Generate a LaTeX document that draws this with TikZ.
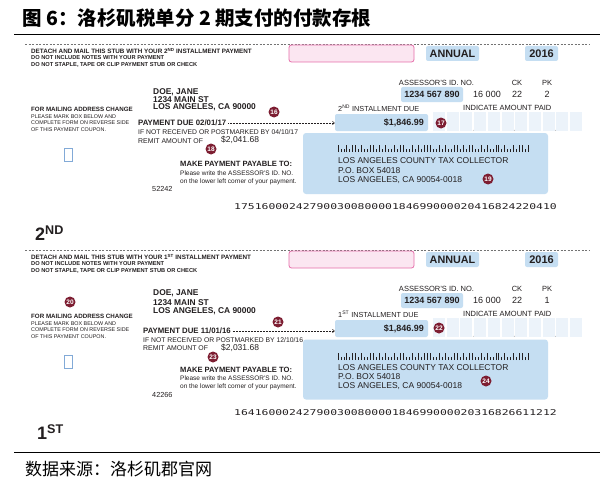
\documentclass[tikz,border=0pt]{standalone}
\usepackage{fontspec}
\setmainfont{Liberation Sans}
\newfontfamily\cjk{Noto Sans CJK SC}
\newfontfamily\ocr{DejaVu Sans Mono}
\usetikzlibrary{arrows.meta}
\definecolor{boxblue}{RGB}{197,222,242}
\definecolor{pinkfill}{RGB}{251,230,241}
\definecolor{pinkline}{RGB}{230,110,170}
\definecolor{cellblue}{RGB}{236,243,250}
\definecolor{sqblue}{RGB}{130,170,215}
\definecolor{badge}{RGB}{125,30,50}
\definecolor{ink}{RGB}{35,31,32}
\newcommand\fsz[1]{\fontsize{#1}{#1}\selectfont}
\newcommand\mybarcode[1]{%
  \foreach \b [count=\i from 0] in {1,0,0,1,0,1,1,0,1,0,0,1,1,0,1,0,1,0,0,1,0,1,1,0,0,1,0,1,0,1,1,1,0,0,1,0,1,0,0,1,1,0,1,0,1,1,0,0,1,0,1,0,0,1,1,0,1,0,0,1,0,1,1,0,1}{%
    \pgfmathsetmacro\hh{3.5+3.5*\b}
    \draw[line width=0.9pt, ink] (338+\i*2.98,#1) -- (338+\i*2.98,#1-\hh);
  }}
\newcommand\mycells{%
  \foreach \k in {0,...,10}{\fill[cellblue] (433+\k*13.7,112) rectangle ++(12,19);}
  \foreach \k in {3,6,9}{\fill[black!35] (433+\k*13.7-0.85,130.3) circle (0.45);}
}
\tikzset{
 txt/.style={inner sep=0pt, anchor=west, text=ink},
 ctxt/.style={inner sep=0pt, text=ink},
 badgec/.style={circle, fill=badge, text=white, inner sep=0pt, minimum size=11pt, font=\bfseries\fsz{6.5}},
 bluebox/.style={fill=boxblue, rounded corners=2pt, inner sep=0pt, text=ink},
 pinkbox/.style={draw=pinkline, fill=pinkfill, line width=0.8pt, rounded corners=2.5pt, inner sep=0pt, minimum width=125pt, minimum height=17pt},
 sqbox/.style={draw=sqblue, line width=0.8pt, minimum width=8pt, minimum height=13pt, inner sep=0pt},
 dotarrow/.style={densely dotted, line width=0.5pt, draw=ink, -{Straight Barb[length=2pt,width=3.5pt]}},
 cutline/.style={dash pattern=on 2pt off 1.5pt, line width=0.6pt, draw=black!55},
}
\begin{document}
\begin{tikzpicture}[x=1pt,y=-1pt]
\useasboundingbox (0,0) rectangle (609,484);
\fill[white] (0,0) rectangle (609,484);
\node[txt, text=black, font=\cjk\bfseries\fsz{19.5}] (title) at (22,18) {图 6：洛杉矶税单分 2 期支付的付款存根};
\draw[line width=0.9pt] (14,34) -- (600,34);
\draw[line width=0.9pt] (14,452.5) -- (600,452.5);
\node[txt, text=black, font=\cjk\fsz{17}] (src) at (25,469) {数据来源：洛杉矶郡官网};

% ---------------- stub 1 (2nd installment)
\draw[cutline] (25,44) -- (589,44);
\node[txt, font=\bfseries\fsz{6.3}] (det1) at (31,51) {DETACH AND MAIL THIS STUB WITH YOUR 2\textsuperscript{ND} INSTALLMENT PAYMENT};
\node[txt, font=\bfseries\fsz{5.7}] (inc1) at (31,57.5) {DO NOT INCLUDE NOTES WITH YOUR PAYMENT};
\node[txt, font=\bfseries\fsz{5.7}] (stp1) at (31,64.5) {DO NOT STAPLE, TAPE OR CLIP PAYMENT STUB OR CHECK};
\node[pinkbox] (pink1) at (351.5,53.5) {};
\node[bluebox, minimum width=53pt, minimum height=15pt, font=\bfseries\fsz{10.8}] (ann1) at (452.5,53.5) {ANNUAL};
\node[bluebox, minimum width=33pt, minimum height=15pt, font=\bfseries\fsz{11}] (yr1) at (541.5,53.5) {2016};
\node[ctxt, font=\fsz{7.5}] (asr1) at (436.5,83) {ASSESSOR'S ID. NO.};
\node[ctxt, font=\fsz{7.5}] (ck1) at (517,83) {CK};
\node[ctxt, font=\fsz{7.5}] (pk1) at (547,83) {PK};
\node[bluebox, minimum width=62pt, minimum height=15pt, font=\bfseries\fsz{9}] (id1) at (432,94.5) {1234 567 890};
\node[ctxt, font=\fsz{9}] (num1) at (487,94.5) {16 000};
\node[ctxt, font=\fsz{9}] (ckv1) at (517,94.5) {22};
\node[ctxt, font=\fsz{9}] (pkv1) at (547,94.5) {2};
\node[txt, font=\fsz{7.3}] (ins1) at (338,108) {2\textsuperscript{ND} INSTALLMENT DUE};
\node[txt, font=\fsz{7.5}] (ind1) at (463,108) {INDICATE AMOUNT PAID};
\node[bluebox, minimum width=93pt, minimum height=17pt] (amt1) at (381.5,122.5) {};
\node[txt, anchor=east, font=\bfseries\fsz{9}] (amtv1) at (424,122.5) {\$1,846.99};
\mycells
\node[bluebox, rounded corners=3pt, minimum width=245pt, minimum height=61pt] (big1) at (425.5,163.5) {};
\mybarcode{152}
\node[txt, font=\fsz{8.5}] (lac1) at (338,161) {LOS ANGELES COUNTY TAX COLLECTOR};
\node[txt, font=\fsz{8.5}] (pob1) at (338,170.5) {P.O. BOX 54018};
\node[txt, font=\fsz{8.5}] (lax1) at (338,180) {LOS ANGELES, CA 90054-0018};
\node[txt, font=\bfseries\fsz{6.2}] (fma1) at (31,109) {FOR MAILING ADDRESS CHANGE};
\node[txt, font=\fsz{5.4}] (pl1) at (31,116.5) {PLEASE MARK BOX BELOW AND};
\node[txt, font=\fsz{5.4}] (cf1) at (31,123) {COMPLETE FORM ON REVERSE SIDE};
\node[txt, font=\fsz{5.4}] (oc1) at (31,129.5) {OF THIS PAYMENT COUPON.};
\node[sqbox] (sq1) at (68,154.5) {};
\node[txt, font=\bfseries\fsz{8.4}] (nm1) at (153,92) {DOE, JANE};
\node[txt, font=\bfseries\fsz{8.4}] (st1) at (153,99.5) {1234 MAIN ST};
\node[txt, font=\bfseries\fsz{8.4}] (ct1) at (153,107.5) {LOS ANGELES, CA 90000};
\node[txt, font=\bfseries\fsz{7.8}] (pd1) at (138,123) {PAYMENT DUE 02/01/17};
\draw[dotarrow] ([xshift=2pt]pd1.east) -- (pd1.east -| amt1.west);
\node[txt, font=\fsz{6.8}] (nr1) at (138,132) {IF NOT RECEIVED OR POSTMARKED BY 04/10/17};
\node[txt, font=\fsz{6.9}] (rm1) at (138,141) {REMIT AMOUNT OF};
\node[txt, font=\fsz{8.5}] (rmv1) at (221,140) {\$2,041.68};
\node[txt, font=\bfseries\fsz{7.6}] (mk1) at (180,164) {MAKE PAYMENT PAYABLE TO:};
\node[txt, font=\fsz{6.5}] (pw1) at (180,173) {Please write the ASSESSOR'S ID. NO.};
\node[txt, font=\fsz{6.5}] (ol1) at (180,181.5) {on the lower left corner of your payment.};
\node[txt, font=\fsz{7.3}] (cd1) at (152,188.5) {52242};
\node[txt, font=\ocr\fsz{11.4}] (ocr1) at (234,207) {\scalebox{1}[0.7]{17516000242790030080000184699000020416824220410}};
\node[txt, font=\bfseries\fsz{18}] (ord1) at (35,233) {2\textsuperscript{ND}};
\node[badgec] (b16) at (274,112) {16};
\node[badgec] (b17) at (441,123) {17};
\node[badgec] (b18) at (211,149) {18};
\node[badgec] (b19) at (488,179) {19};

% ---------------- stub 2 (1st installment)
\begin{scope}[yshift=-206pt]
\draw[cutline] (25,44) -- (589,44);
\node[txt, font=\bfseries\fsz{6.3}] (det2) at (31,51) {DETACH AND MAIL THIS STUB WITH YOUR 1\textsuperscript{ST} INSTALLMENT PAYMENT};
\node[txt, font=\bfseries\fsz{5.7}] (inc2) at (31,57.5) {DO NOT INCLUDE NOTES WITH YOUR PAYMENT};
\node[txt, font=\bfseries\fsz{5.7}] (stp2) at (31,64.5) {DO NOT STAPLE, TAPE OR CLIP PAYMENT STUB OR CHECK};
\node[pinkbox] (pink2) at (351.5,53.5) {};
\node[bluebox, minimum width=53pt, minimum height=15pt, font=\bfseries\fsz{10.8}] (ann2) at (452.5,53.5) {ANNUAL};
\node[bluebox, minimum width=33pt, minimum height=15pt, font=\bfseries\fsz{11}] (yr2) at (541.5,53.5) {2016};
\node[ctxt, font=\fsz{7.5}] (asr2) at (436.5,83) {ASSESSOR'S ID. NO.};
\node[ctxt, font=\fsz{7.5}] (ck2) at (517,83) {CK};
\node[ctxt, font=\fsz{7.5}] (pk2) at (547,83) {PK};
\node[bluebox, minimum width=62pt, minimum height=15pt, font=\bfseries\fsz{9}] (id2) at (432,94.5) {1234 567 890};
\node[ctxt, font=\fsz{9}] (num2) at (487,94.5) {16 000};
\node[ctxt, font=\fsz{9}] (ckv2) at (517,94.5) {22};
\node[ctxt, font=\fsz{9}] (pkv2) at (547,94.5) {1};
\node[txt, font=\fsz{7.3}] (ins2) at (338,108) {1\textsuperscript{ST} INSTALLMENT DUE};
\node[txt, font=\fsz{7.5}] (ind2) at (463,108) {INDICATE AMOUNT PAID};
\node[bluebox, minimum width=93pt, minimum height=17pt] (amt2) at (381.5,122.5) {};
\node[txt, anchor=east, font=\bfseries\fsz{9}] (amtv2) at (424,122.5) {\$1,846.99};
\mycells
\node[bluebox, rounded corners=3pt, minimum width=245pt, minimum height=60pt] (big2) at (425.5,163.5) {};
\mybarcode{154}
\node[txt, font=\fsz{8.5}] (lac2) at (338,161.5) {LOS ANGELES COUNTY TAX COLLECTOR};
\node[txt, font=\fsz{8.5}] (pob2) at (338,171) {P.O. BOX 54018};
\node[txt, font=\fsz{8.5}] (lax2) at (338,180.5) {LOS ANGELES, CA 90054-0018};
\node[txt, font=\bfseries\fsz{6.2}] (fma2) at (31,110) {FOR MAILING ADDRESS CHANGE};
\node[txt, font=\fsz{5.4}] (pl2) at (31,117.5) {PLEASE MARK BOX BELOW AND};
\node[txt, font=\fsz{5.4}] (cf2) at (31,124) {COMPLETE FORM ON REVERSE SIDE};
\node[txt, font=\fsz{5.4}] (oc2) at (31,130.5) {OF THIS PAYMENT COUPON.};
\node[sqbox] (sq2) at (68,155.5) {};
\node[txt, font=\bfseries\fsz{8.4}] (nm2) at (153,87.5) {DOE, JANE};
\node[txt, font=\bfseries\fsz{8.4}] (st2) at (153,96.5) {1234 MAIN ST};
\node[txt, font=\bfseries\fsz{8.4}] (ct2) at (153,105.5) {LOS ANGELES, CA 90000};
\node[txt, font=\bfseries\fsz{7.8}] (pd2) at (143,125) {PAYMENT DUE 11/01/16};
\draw[dotarrow] ([xshift=2pt]pd2.east) -- (pd2.east -| amt2.west);
\node[txt, font=\fsz{6.8}] (nr2) at (143,134) {IF NOT RECEIVED OR POSTMARKED BY 12/10/16};
\node[txt, font=\fsz{6.9}] (rm2) at (143,142.5) {REMIT AMOUNT OF};
\node[txt, font=\fsz{8.5}] (rmv2) at (221,141.5) {\$2,031.68};
\node[txt, font=\bfseries\fsz{7.6}] (mk2) at (180,164) {MAKE PAYMENT PAYABLE TO:};
\node[txt, font=\fsz{6.5}] (pw2) at (180,172.5) {Please write the ASSESSOR'S ID. NO.};
\node[txt, font=\fsz{6.5}] (ol2) at (180,181) {on the lower left corner of your payment.};
\node[txt, font=\fsz{7.3}] (cd2) at (152,189) {42266};
\node[txt, font=\ocr\fsz{11.4}] (ocr2) at (234,207) {\scalebox{1}[0.7]{16416000242790030080000184699000020316826611212}};
\node[txt, font=\bfseries\fsz{18}] (ord2) at (37,226) {1\textsuperscript{ST}};
\node[badgec] (b20) at (70,96) {20};
\node[badgec] (b21) at (278,116) {21};
\node[badgec] (b22) at (439,122) {22};
\node[badgec] (b23) at (213,151) {23};
\node[badgec] (b24) at (486,175) {24};
\end{scope}
\end{tikzpicture}
\end{document}
